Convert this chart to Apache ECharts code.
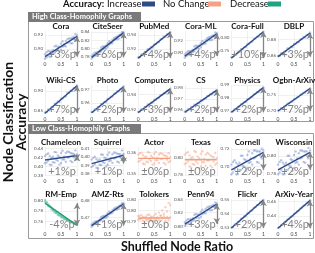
<!DOCTYPE html>
<html><head><meta charset="utf-8">
<script src="https://cdn.jsdelivr.net/npm/echarts@6/dist/echarts.min.js"></script>
<style>html,body{margin:0;padding:0;background:#fff}#c{width:315px;height:253px}</style>
</head><body><div id="c"></div>
<script>
// ---------------- data ----------------
const names = ['Cora','CiteSeer','PubMed','Cora-ML','Cora-Full','DBLP',
  'Wiki-CS','Photo','Computers','CS','Physics','Ogbn-ArXiv',
  'Chameleon','Squirrel','Actor','Texas','Cornell','Wisconsin',
  'RM-Emp','AMZ-Rts','Tolokers','Penn94','Flickr','ArXiv-Year'];
const trend = ['inc','inc','inc','inc','inc','inc',
  'inc','inc','inc','inc','inc','inc',
  'inc','inc','flat','flat','inc','inc',
  'dec','inc','flat','inc','inc','inc'];
const pctLabels = ['+3%p','+6%p','+4%p','+4%p','+10%p','+3%p',
  '+7%p','+2%p','+3%p','+2%p','+2%p','+7%p',
  '+1%p','+1%p','±0%p','±0%p','+2%p','+2%p',
  '-4%p','+1%p','±0%p','+3%p','+2%p','+4%p'];
const fitStart = [0.889,0.778,0.907,0.893,0.722,0.858,
  0.844,0.9525,0.916,0.958,0.969,0.700,
  0.414,0.392,0.3572,0.798,0.696,0.784,
  0.795,0.465,0.7915,0.803,0.530,0.423];
const fitEnd = [0.918,0.838,0.944,0.932,0.820,0.888,
  0.913,0.9725,0.947,0.978,0.988,0.770,
  0.424,0.402,0.3572,0.798,0.716,0.804,
  0.752,0.478,0.7915,0.833,0.550,0.461];
const yMin = [0.8857,0.774,0.9057,0.888,0.718,0.855,
  0.842,0.9515,0.914,0.9564,0.9677,0.6906,
  0.378,0.377,0.349,0.7788,0.689,0.777,
  0.745,0.463,0.7864,0.7957,0.5293,0.422];
const yMax = [0.9257,0.842,0.9457,0.9367,0.823,0.8905,
  0.915,0.9738,0.952,0.9827,0.990,0.781,
  0.443,0.412,0.3625,0.813,0.722,0.810,
  0.803,0.4808,0.8003,0.8405,0.5507,0.463];
const yTicks = [[0.90,0.92],[0.78,0.80,0.82,0.84],[0.92,0.94],[0.90,0.92],[0.75,0.80],[0.86,0.88],
  [0.85,0.90],[0.96,0.97],[0.92,0.94],[0.96,0.97,0.98],[0.97,0.98,0.99],[0.70,0.75],
  [0.38,0.40,0.42,0.44],[0.38,0.39,0.40,0.41],[0.35,0.36],[0.78,0.80],[0.70,0.72],[0.78,0.80],
  [0.76,0.78,0.80],[0.47,0.48],[0.79,0.795,0.80],[0.80,0.82,0.84],[0.53,0.54,0.55],[0.44,0.46]];
const xTicks = [0, 0.5, 1];
const xTickLabels = ['0', '0.5', '1'];
const shuffleRatio = [0,0.05,0.1,0.15,0.2,0.25,0.3,0.35,0.4,0.45,0.5,0.55,0.6,0.65,0.7,0.75,0.8,0.85,0.9,0.95,1];

const ptsCora = [0.8926,0.8881,0.8973,0.8886,0.8960,0.8933,0.9037,0.8980,0.9030,0.8961,0.9077,0.9032,0.9070,0.9037,0.9141,0.9102,0.9152,0.9083,0.9169,0.9130,0.9192];
const ptsCora2 = [0.8860,0.8953,0.8907,0.8964,0.8894,0.8981,0.8941,0.9046,0.8982,0.9033,0.8987,0.9110,0.9046,0.9115,0.9087,0.9150,0.9080,0.9161,0.9139,0.9214,0.9156];
const ptsCiteSeer = [0.7816,0.7786,0.7894,0.7822,0.7912,0.7900,0.8020,0.7978,0.8044,0.7990,0.8122,0.8092,0.8146,0.8128,0.8248,0.8224,0.8290,0.8236,0.8338,0.8314,0.8392];
const ptsCiteSeer2 = [0.7750,0.7858,0.7828,0.7900,0.7846,0.7948,0.7924,0.8044,0.7996,0.8062,0.8032,0.8170,0.8122,0.8206,0.8194,0.8272,0.8218,0.8314,0.8308,0.8398,0.8356];
const ptsPubMed = [0.9079,0.9083,0.9121,0.9114,0.9147,0.9155,0.9196,0.9197,0.9224,0.9222,0.9266,0.9269,0.9294,0.9300,0.9341,0.9346,0.9374,0.9371,0.9408,0.9413,0.9443];
const ptsCoraML = [0.8960,0.8930,0.9014,0.8949,0.9018,0.9003,0.9097,0.9057,0.9106,0.9056,0.9160,0.9130,0.9169,0.9149,0.9243,0.9218,0.9267,0.9217,0.9296,0.9271,0.9330];
const ptsCoraML2 = [0.8905,0.8990,0.8959,0.9014,0.8963,0.9043,0.9017,0.9112,0.9066,0.9116,0.9085,0.9195,0.9149,0.9214,0.9198,0.9258,0.9207,0.9282,0.9271,0.9341,0.9300];
const ptsCoraFull = [0.7238,0.7257,0.7345,0.7343,0.7422,0.7450,0.7544,0.7557,0.7624,0.7631,0.7731,0.7750,0.7811,0.7836,0.7930,0.7952,0.8019,0.8026,0.8111,0.8133,0.8206];
const ptsDBLP = [0.8589,0.8589,0.8624,0.8613,0.8643,0.8648,0.8685,0.8682,0.8706,0.8700,0.8741,0.8741,0.8762,0.8765,0.8802,0.8804,0.8828,0.8822,0.8855,0.8856,0.8883];
const ptsWikiCS = [0.8458,0.8463,0.8536,0.8520,0.8584,0.8598,0.8677,0.8676,0.8728,0.8721,0.8806,0.8811,0.8857,0.8868,0.8947,0.8955,0.9007,0.9000,0.9070,0.9078,0.9136];
const ptsPhoto = [0.9530,0.9532,0.9552,0.9549,0.9567,0.9570,0.9593,0.9593,0.9608,0.9607,0.9631,0.9633,0.9646,0.9649,0.9671,0.9674,0.9689,0.9690,0.9707,0.9710,0.9727];
const ptsComputers = [0.9167,0.9171,0.9202,0.9197,0.9224,0.9232,0.9265,0.9266,0.9289,0.9288,0.9323,0.9327,0.9347,0.9353,0.9387,0.9391,0.9414,0.9413,0.9443,0.9447,0.9472];
const ptsCS = [0.9585,0.9587,0.9607,0.9604,0.9622,0.9626,0.9648,0.9648,0.9663,0.9662,0.9686,0.9688,0.9701,0.9704,0.9726,0.9729,0.9744,0.9743,0.9762,0.9765,0.9782];
const ptsPhysics = [0.9694,0.9697,0.9714,0.9714,0.9729,0.9735,0.9753,0.9755,0.9768,0.9770,0.9789,0.9793,0.9805,0.9809,0.9828,0.9832,0.9845,0.9846,0.9863,0.9867,0.9881];
const ptsOgbn = [0.7012,0.7027,0.7088,0.7089,0.7144,0.7165,0.7230,0.7241,0.7288,0.7295,0.7364,0.7379,0.7422,0.7441,0.7506,0.7523,0.7570,0.7577,0.7636,0.7653,0.7704];
const ptsChameleon = [0.4230,0.4085,0.4285,0.4035,0.4190,0.4090,0.4320,0.4145,0.4240,0.4035,0.4295,0.4150,0.4215,0.4100,0.4330,0.4200,0.4295,0.4090,0.4275,0.4145,0.4270];
const ptsChameleon2 = [0.4065,0.4265,0.4120,0.4230,0.4025,0.4210,0.4080,0.4310,0.4120,0.4215,0.4070,0.4345,0.4155,0.4295,0.4195,0.4320,0.4115,0.4285,0.4200,0.4355,0.4180];
const ptsSquirrel = [0.3968,0.3893,0.4002,0.3871,0.3956,0.3905,0.4030,0.3939,0.3992,0.3885,0.4026,0.3951,0.3988,0.3929,0.4054,0.3987,0.4040,0.3933,0.4034,0.3967,0.4036];
const ptsSquirrel2 = [0.3880,0.3989,0.3914,0.3975,0.3868,0.3969,0.3902,0.4027,0.3928,0.3981,0.3906,0.4055,0.3956,0.4033,0.3982,0.4051,0.3944,0.4037,0.3994,0.4079,0.3988];
const ptsActor = [0.3590,0.3560,0.3599,0.3548,0.3578,0.3557,0.3602,0.3566,0.3584,0.3542,0.3593,0.3563,0.3575,0.3551,0.3596,0.3569,0.3587,0.3545,0.3581,0.3554,0.3578];
const ptsActor2 = [0.3557,0.3596,0.3566,0.3587,0.3545,0.3581,0.3554,0.3599,0.3560,0.3578,0.3548,0.3602,0.3563,0.3590,0.3569,0.3593,0.3551,0.3584,0.3566,0.3596,0.3560];
const ptsTexas = [0.804,0.794,0.807,0.790,0.800,0.793,0.808,0.796,0.802,0.788,0.805,0.795,0.799,0.791,0.806,0.797,0.803,0.789,0.801,0.792,0.800];
const ptsTexas2 = [0.793,0.806,0.796,0.803,0.789,0.801,0.792,0.807,0.794,0.800,0.790,0.808,0.795,0.804,0.797,0.805,0.791,0.802,0.796,0.806,0.794];
const ptsCornell = [0.702,0.693,0.707,0.691,0.702,0.696,0.712,0.701,0.708,0.695,0.713,0.704,0.709,0.702,0.718,0.710,0.717,0.704,0.717,0.709,0.718];
const ptsCornell2 = [0.691,0.705,0.696,0.704,0.691,0.704,0.696,0.712,0.700,0.707,0.698,0.717,0.705,0.715,0.709,0.718,0.705,0.717,0.712,0.720,0.712];
const ptsWisconsin = [0.790,0.781,0.795,0.779,0.790,0.784,0.800,0.789,0.796,0.783,0.801,0.792,0.797,0.790,0.806,0.798,0.805,0.792,0.805,0.797,0.806];
const ptsWisconsin2 = [0.779,0.793,0.784,0.792,0.779,0.792,0.784,0.800,0.788,0.795,0.786,0.805,0.793,0.803,0.797,0.806,0.793,0.805,0.800,0.809,0.800];
const ptsRMEmp = [0.801,0.796,0.793,0.789,0.786,0.782,0.780,0.777,0.775,0.772,0.770,0.768,0.766,0.764,0.763,0.761,0.760,0.758,0.757,0.756,0.755];
const ptsRMEmp2 = [0.798,0.797,0.790,0.788,0.783,0.781,0.777,0.776,0.772,0.771,0.768,0.767,0.764,0.764,0.761,0.760,0.758,0.758,0.755,0.756,0.753];
const ptsAMZ = [0.4657,0.4652,0.4674,0.4660,0.4678,0.4677,0.4701,0.4693,0.4707,0.4697,0.4723,0.4718,0.4729,0.4726,0.4751,0.4746,0.4760,0.4750,0.4771,0.4766,0.4782];
const ptsAMZ2 = [0.4644,0.4666,0.4661,0.4676,0.4665,0.4686,0.4682,0.4706,0.4697,0.4711,0.4705,0.4734,0.4724,0.4742,0.4740,0.4756,0.4746,0.4765,0.4765,0.4783,0.4775];
const ptsTolokers = [0.7924,0.7909,0.7929,0.7903,0.7918,0.7908,0.7930,0.7912,0.7921,0.7900,0.7926,0.7911,0.7917,0.7905,0.7927,0.7914,0.7923,0.7902,0.7920,0.7906,0.7918];
const ptsTolokers2 = [0.7907,0.7925,0.7912,0.7920,0.7898,0.7922,0.7906,0.7930,0.7909,0.7919,0.7904,0.7935,0.7915,0.7940,0.7925,0.7950,0.7935,0.7965,0.7945,0.7985,0.7975];
const ptsPenn94 = [0.8060,0.8025,0.8105,0.8035,0.8100,0.8080,0.8170,0.8125,0.8170,0.8115,0.8215,0.8180,0.8215,0.8190,0.8280,0.8250,0.8295,0.8240,0.8315,0.8285,0.8340];
const ptsPenn942 = [0.8005,0.8085,0.8050,0.8100,0.8045,0.8120,0.8090,0.8180,0.8130,0.8175,0.8140,0.8245,0.8195,0.8255,0.8235,0.8290,0.8235,0.8305,0.8290,0.8355,0.8310];
const ptsFlickr = [0.5304,0.5308,0.5325,0.5325,0.5341,0.5347,0.5366,0.5369,0.5382,0.5384,0.5404,0.5408,0.5421,0.5426,0.5445,0.5449,0.5463,0.5465,0.5482,0.5486,0.5501];
const ptsArXivYear = [0.4235,0.4246,0.4275,0.4281,0.4308,0.4321,0.4352,0.4361,0.4385,0.4393,0.4426,0.4437,0.4459,0.4471,0.4502,0.4514,0.4538,0.4546,0.4574,0.4586,0.4612];

const scatterSets = [
  [ptsCora, ptsCora2],[ptsCiteSeer, ptsCiteSeer2],[ptsPubMed],[ptsCoraML, ptsCoraML2],[ptsCoraFull],[ptsDBLP],
  [ptsWikiCS],[ptsPhoto],[ptsComputers],[ptsCS],[ptsPhysics],[ptsOgbn],
  [ptsChameleon, ptsChameleon2],[ptsSquirrel, ptsSquirrel2],[ptsActor, ptsActor2],[ptsTexas, ptsTexas2],[ptsCornell, ptsCornell2],[ptsWisconsin, ptsWisconsin2],
  [ptsRMEmp, ptsRMEmp2],[ptsAMZ, ptsAMZ2],[ptsTolokers, ptsTolokers2],[ptsPenn94, ptsPenn942],[ptsFlickr],[ptsArXivYear]];

// ---------------- style / layout ----------------
const FONT = 'Lato, "Open Sans", sans-serif';
const COLORS = {
  inc:  {line:'#2c4a8a', pt:'rgba(80,115,188,0.5)', legend:'#2f4b85'},
  flat: {line:'#f59c7c', pt:'rgba(246,150,118,0.55)', legend:'#f4a285'},
  dec:  {line:'#1a9f7b', pt:'rgba(38,170,128,0.5)', legend:'#1fa383'}
};
const rowTop = [31, 85, 147, 199];
const rowH = [28, 29, 29, 30];
const colLeft = c => 45 + 46.6 * c;
const plotW = 32;

const grid = [], xAxis = [], yAxis = [], series = [], graphic = [];
names.forEach((name, i) => {
  const r = Math.floor(i / 6), c = i % 6;
  const left = colLeft(c), top = rowTop[r], h = rowH[r];
  const col = COLORS[trend[i]];
  grid.push({left: left, top: top, width: plotW, height: h});
  xAxis.push({gridIndex: i, type: 'value', min: 0, max: 1, interval: 0.5,
    axisLine: {show: false}, axisTick: {show: false},
    axisLabel: {fontSize: 5, color: '#444', margin: 3, fontFamily: FONT,
      formatter: v => xTickLabels[xTicks.indexOf(v)] ?? ''},
    splitLine: {lineStyle: {color: '#e6e6e6', width: 0.6}}});
  yAxis.push({gridIndex: i, type: 'value', min: yMin[i], max: yMax[i],
    axisLine: {show: false},
    axisTick: {show: false, customValues: yTicks[i]},
    axisLabel: {customValues: yTicks[i], fontSize: 4.5, color: '#555', margin: 2, fontFamily: FONT,
      formatter: v => v.toFixed(2)},
    splitLine: {lineStyle: {color: '#e6e6e6', width: 0.6}}});
  scatterSets[i].forEach(set => {
    series.push({type: 'scatter', xAxisIndex: i, yAxisIndex: i, symbolSize: 2.4,
      itemStyle: {color: col.pt}, silent: true, animation: false,
      data: set.map((y, k) => [shuffleRatio[k], y])});
  });
  const hasArrow = Math.abs(fitEnd[i] - fitStart[i]) > 0.002;
  series.push({type: 'line', xAxisIndex: i, yAxisIndex: i, symbol: 'none', silent: true, animation: false,
    lineStyle: {color: col.line, width: 1.4}, z: 3,
    data: [[0, fitStart[i]], [1, fitEnd[i]]],
    markLine: hasArrow ? {silent: true, animation: false, symbol: ['arrow', 'arrow'], symbolSize: [5, 6],
      label: {show: false}, lineStyle: {color: '#858585', width: 1.3, type: 'solid'},
      data: [[{coord: [1, fitStart[i]]}, {coord: [1, fitEnd[i]]}]]} : undefined});
  graphic.push({type: 'text', x: left + plotW / 2, y: top - 5, z: 10,
    style: {text: name, font: 'bold 8px ' + FONT, fill: '#111', align: 'center', verticalAlign: 'middle'}});
  graphic.push({type: 'text', x: left + plotW / 2 + 1, y: top + h - 5, z: 10,
    style: {text: pctLabels[i], font: '11px ' + FONT, fill: '#828282', align: 'center', verticalAlign: 'middle'}});
});

// group boxes & headers
[[12, 21, 121, 'High Class-Homophily Graphs'], [124, 133, 238, 'Low Class-Homophily Graphs']].forEach(([tabY, boxY, boxB, label]) => {
  graphic.push({type: 'rect', z: 1, shape: {x: 28.5, y: boxY + 0.5, width: 285, height: boxB - boxY},
    style: {fill: 'none', stroke: '#9a9a9a', lineWidth: 1}});
  graphic.push({type: 'rect', z: 2, shape: {x: 28, y: tabY, width: 113, height: boxY - tabY + 1},
    style: {fill: '#7a7a7a'}});
  graphic.push({type: 'text', z: 3, x: 32, y: (tabY + boxY) / 2 + 0.5,
    style: {text: label, font: 'bold 7.5px ' + FONT, fill: '#fff', align: 'left', verticalAlign: 'middle'}});
});

// legend
graphic.push({type: 'text', x: 63, y: 3.5, style: {text: 'Accuracy:', font: 'bold 9.5px ' + FONT, fill: '#111', align: 'left', verticalAlign: 'middle'}});
[['Increase', 107, 142, 'inc'], ['No Change', 163, 208, 'flat'], ['Decrease', 230, 268, 'dec']].forEach(([t, tx, rx, k]) => {
  graphic.push({type: 'text', x: tx, y: 3.5, style: {text: t, font: '9.5px ' + FONT, fill: '#111', align: 'left', verticalAlign: 'middle'}});
  graphic.push({type: 'rect', shape: {x: rx, y: 1.5, width: 13, height: 5}, style: {fill: COLORS[k].legend}});
});

// axis titles
graphic.push({type: 'text', x: 8, y: 122, rotation: Math.PI / 2,
  style: {text: 'Node Classification', font: 'bold 14px ' + FONT, fill: '#111', align: 'center', verticalAlign: 'middle'}});
graphic.push({type: 'text', x: 21, y: 122, rotation: Math.PI / 2,
  style: {text: 'Accuracy', font: 'bold 14px ' + FONT, fill: '#111', align: 'center', verticalAlign: 'middle'}});
graphic.push({type: 'text', x: 177, y: 247,
  style: {text: 'Shuffled Node Ratio', font: 'bold 12.5px ' + FONT, fill: '#111', align: 'center', verticalAlign: 'middle'}});

const chart = echarts.init(document.getElementById('c'), null, {renderer: 'canvas'});
chart.setOption({animation: false, grid, xAxis, yAxis, series, graphic});
</script></body></html>
